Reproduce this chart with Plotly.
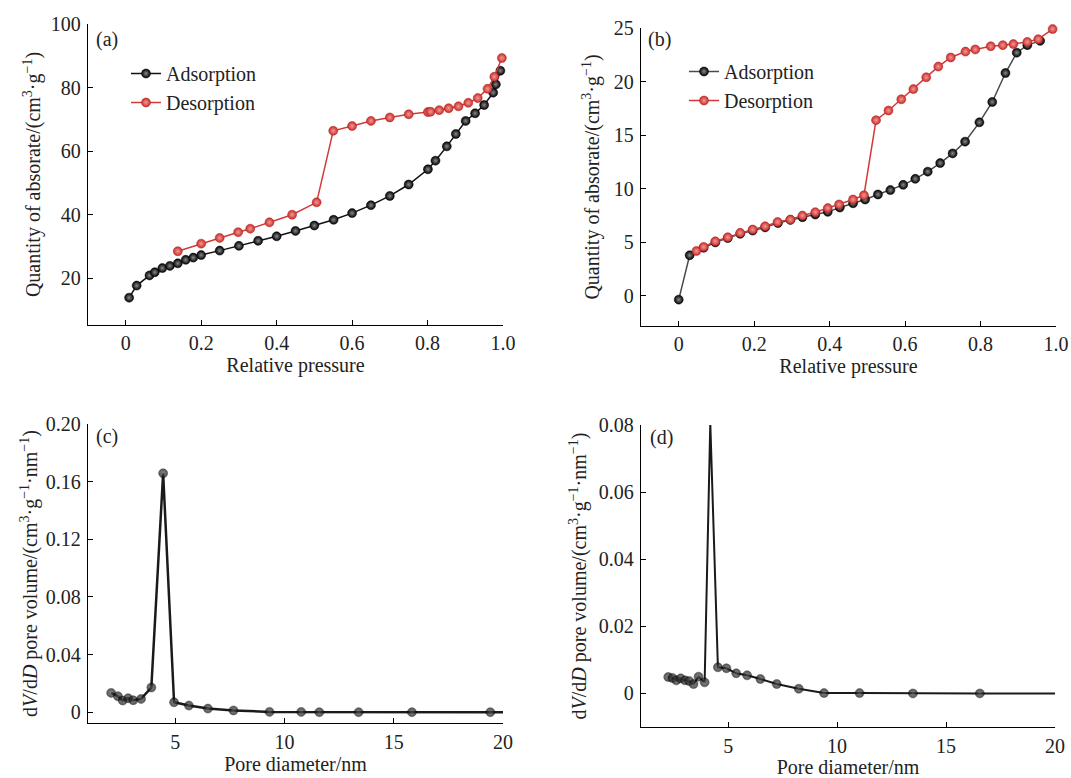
import plotly.graph_objects as go

# ---------------- data ----------------
# (a)
a_ads_x = [0.009, 0.029, 0.063, 0.077, 0.097, 0.117, 0.138, 0.159, 0.179, 0.2, 0.249, 0.3, 0.351, 0.4, 0.45,
           0.5, 0.551, 0.6, 0.65, 0.7, 0.75, 0.801, 0.821, 0.851, 0.875, 0.901, 0.926, 0.95, 0.974, 0.981, 0.993]
a_ads_y = [13.9, 17.7, 20.9, 21.9, 23.2, 23.9, 24.7, 25.8, 26.5, 27.3, 28.7, 30.2, 31.8, 33.2, 34.9,
           36.6, 38.4, 40.5, 43.0, 45.9, 49.5, 54.3, 57.0, 61.5, 65.4, 69.5, 71.9, 74.5, 78.4, 81.0, 85.3]
a_des_x = [0.138, 0.2, 0.249, 0.298, 0.33, 0.381, 0.441, 0.506, 0.55, 0.6, 0.65, 0.7, 0.75, 0.801, 0.808,
           0.831, 0.856, 0.882, 0.908, 0.933, 0.959, 0.977, 0.997]
a_des_y = [28.5, 30.9, 32.7, 34.5, 35.6, 37.6, 40.0, 43.9, 66.4, 67.9, 69.5, 70.6, 71.6, 72.3, 72.4,
           72.9, 73.5, 74.1, 75.2, 76.7, 79.6, 83.4, 89.3]

# (b)
b_ads_x = [0.0, 0.029, 0.066, 0.097, 0.13, 0.163, 0.196, 0.229, 0.263, 0.296, 0.328, 0.362, 0.395, 0.427,
           0.462, 0.494, 0.528, 0.561, 0.595, 0.627, 0.66, 0.693, 0.726, 0.759, 0.797, 0.831, 0.866,
           0.896, 0.924, 0.958]
b_ads_y = [-0.34, 3.8, 4.5, 5.0, 5.4, 5.8, 6.1, 6.4, 6.8, 7.1, 7.35, 7.6, 7.85, 8.25,
           8.65, 9.0, 9.47, 9.88, 10.37, 10.93, 11.6, 12.4, 13.3, 14.4, 16.2, 18.1, 20.8,
           22.7, 23.4, 23.8]
b_des_x = [0.047, 0.066, 0.097, 0.13, 0.163, 0.196, 0.229, 0.262, 0.296, 0.328, 0.362, 0.395, 0.425, 0.462,
           0.491, 0.523, 0.556, 0.59, 0.622, 0.656, 0.688, 0.721, 0.76, 0.786, 0.827, 0.859, 0.887,
           0.924, 0.953, 0.991]
b_des_y = [4.2, 4.58, 5.1, 5.48, 5.89, 6.2, 6.5, 6.9, 7.13, 7.5, 7.82, 8.2, 8.54, 9.0,
           9.4, 16.4, 17.3, 18.35, 19.3, 20.4, 21.4, 22.25, 22.8, 23.0, 23.3, 23.4, 23.5,
           23.7, 23.96, 24.9]

# (c)
c_x = [2.06, 2.37, 2.59, 2.84, 3.07, 3.43, 3.9, 4.44, 4.94, 5.62, 6.49, 7.66, 9.31, 10.76, 11.59,
       13.39, 15.83, 19.42, 20.0]
c_y = [0.0134, 0.0111, 0.0081, 0.0097, 0.0083, 0.0092, 0.0171, 0.1658, 0.0069, 0.0046, 0.0025, 0.0012,
       0.0002, 0.0002, 0.0, 0.0, 0.0, 0.0, 0.0]

# (d)
d_x = [2.25, 2.44, 2.62, 2.82, 3.02, 3.21, 3.41, 3.64, 3.92, 4.18, 4.53, 4.92, 5.37, 5.87, 6.48, 7.23,
       8.24, 9.4, 11.03, 13.48, 16.55, 20.0]
d_y = [0.0049, 0.0046, 0.0039, 0.0045, 0.0039, 0.0037, 0.0028, 0.005, 0.0033, 0.0805, 0.0078, 0.0075,
       0.006, 0.0054, 0.0043, 0.0028, 0.0014, 0.0001, 0.0001, 0.0, 0.0, 0.0]

pressure_ticks = [0, 0.2, 0.4, 0.6, 0.8, 1.0]
pressure_labels = ["0", "0.2", "0.4", "0.6", "0.8", "1.0"]
a_yticks = [20, 40, 60, 80, 100]
b_yticks = [0, 5, 10, 15, 20, 25]
pore_ticks = [5, 10, 15, 20]
c_yticks = [0, 0.04, 0.08, 0.12, 0.16, 0.20]
c_ylabels = ["0", "0.04", "0.08", "0.12", "0.16", "0.20"]
d_yticks = [0, 0.02, 0.04, 0.06, 0.08]
d_ylabels = ["0", "0.02", "0.04", "0.06", "0.08"]

# ---------------- style ----------------
W, H = 1071, 778
FONT = "Liberation Serif, Times New Roman, serif"
BLACK = "#111111"
RED = "#d23a35"
TXT = "#222222"


def px_x(p):
    return p / W


def px_y(p):
    return 1 - p / H


fig = go.Figure()

black_marker = dict(size=9, color="#000000", gradient=dict(type="radial", color="#8a8a8a"),
                    line=dict(width=0.5, color="#000"))
red_marker = dict(size=9, color="#c92d29", gradient=dict(type="radial", color="#f29a98"),
                  line=dict(width=0.5, color="#b02020"))
grey_marker = dict(size=9, color="#0d0d0d", gradient=dict(type="radial", color="#5a5a5a"),
                   line=dict(width=0.5, color="#000"))

fig.add_trace(go.Scatter(x=a_ads_x, y=a_ads_y, mode="lines+markers", name="Adsorption",
                         line=dict(color=BLACK, width=1.5), marker=black_marker, cliponaxis=False,
                         xaxis="x", yaxis="y", legend="legend"))
fig.add_trace(go.Scatter(x=a_des_x, y=a_des_y, mode="lines+markers", name="Desorption",
                         line=dict(color=RED, width=1.5), marker=red_marker, cliponaxis=False,
                         xaxis="x", yaxis="y", legend="legend"))

fig.add_trace(go.Scatter(x=b_ads_x, y=b_ads_y, mode="lines+markers", name="Adsorption",
                         line=dict(color="#4a4a4a", width=1.5), marker=black_marker, cliponaxis=False,
                         xaxis="x2", yaxis="y2", legend="legend2"))
fig.add_trace(go.Scatter(x=b_des_x, y=b_des_y, mode="lines+markers", name="Desorption",
                         line=dict(color=RED, width=1.5), marker=red_marker, cliponaxis=False,
                         xaxis="x2", yaxis="y2", legend="legend2"))

c_sizes = [9] * (len(c_x) - 1) + [0]
d_sizes = [9] * (len(d_x) - 1) + [0]
fig.add_trace(go.Scatter(x=c_x, y=c_y, mode="lines+markers", showlegend=False,
                         line=dict(color="#1a1a1a", width=2.5),
                         marker=dict(grey_marker, size=c_sizes), cliponaxis=False,
                         xaxis="x3", yaxis="y3"))
fig.add_trace(go.Scatter(x=d_x, y=d_y, mode="lines+markers", showlegend=False,
                         line=dict(color="#1a1a1a", width=2),
                         marker=dict(grey_marker, size=d_sizes), cliponaxis=False,
                         xaxis="x4", yaxis="y4"))

axis_common = dict(showline=True, linecolor="black", linewidth=1.3, ticks="inside", ticklen=5,
                   tickwidth=1.2, tickcolor="black", showgrid=False, zeroline=False, mirror=False,
                   automargin=False, tickfont=dict(family=FONT, size=20, color=TXT),
                   title_font=dict(family=FONT, size=20, color=TXT))

ytitle_ab = "Quantity of absorate/(cm<sup>3</sup>·g<sup>−1</sup>)"
ytitle_cd = "d<i>V</i>/d<i>D</i> pore volume/(cm<sup>3</sup>·g<sup>−1</sup>·nm<sup>−1</sup>)"

fig.update_layout(
    width=W, height=H,
    margin=dict(l=0, r=0, t=0, b=0),
    paper_bgcolor="white", plot_bgcolor="white",
    font=dict(family=FONT, size=20, color=TXT),
    xaxis=dict(axis_common, domain=[px_x(88), px_x(503)], range=[-0.1, 1.0], anchor="y",
               tickvals=pressure_ticks, ticktext=pressure_labels,
               title=dict(text="Relative pressure", standoff=4)),
    yaxis=dict(axis_common, domain=[px_y(325), px_y(24)], range=[5.3, 100], anchor="x",
               tickvals=a_yticks, ticklabelstandoff=2,
               title=dict(text=ytitle_ab, standoff=4)),
    xaxis2=dict(axis_common, domain=[px_x(641), px_x(1056)], range=[-0.1, 1.0], anchor="y2",
                tickvals=pressure_ticks, ticktext=pressure_labels,
                title=dict(text="Relative pressure", standoff=4)),
    yaxis2=dict(axis_common, domain=[px_y(326), px_y(28)], range=[-2.8, 25], anchor="x2",
                tickvals=b_yticks, ticklabelstandoff=2,
                title=dict(text=ytitle_ab, standoff=8)),
    xaxis3=dict(axis_common, domain=[px_x(88), px_x(503)], range=[1, 20], anchor="y3",
                tickvals=pore_ticks, ticklabelstandoff=1,
                title=dict(text="Pore diameter/nm", standoff=4)),
    yaxis3=dict(axis_common, domain=[px_y(723), px_y(424)], range=[-0.0075, 0.2], anchor="x3",
                tickvals=c_yticks, ticktext=c_ylabels, ticklabelstandoff=2,
                title=dict(text=ytitle_cd, standoff=2)),
    xaxis4=dict(axis_common, domain=[px_x(641), px_x(1055)], range=[1, 20], anchor="y4",
                tickvals=pore_ticks, ticklabelstandoff=1,
                title=dict(text="Pore diameter/nm", standoff=4)),
    yaxis4=dict(axis_common, domain=[px_y(727), px_y(425)], range=[-0.01, 0.08], anchor="x4",
                tickvals=d_yticks, ticktext=d_ylabels, ticklabelstandoff=2,
                title=dict(text=ytitle_cd, standoff=6)),
    legend=dict(x=px_x(126), y=px_y(54), xanchor="left", yanchor="top", bgcolor="rgba(0,0,0,0)",
                font=dict(family=FONT, size=20, color=TXT), itemwidth=30, tracegroupgap=0),
    legend2=dict(x=px_x(684), y=px_y(52), xanchor="left", yanchor="top", bgcolor="rgba(0,0,0,0)",
                 font=dict(family=FONT, size=20, color=TXT), itemwidth=30, tracegroupgap=0),
    annotations=[
        dict(text="(a)", x=px_x(94), y=px_y(40), xref="paper", yref="paper", xanchor="left",
             yanchor="middle", showarrow=False, font=dict(family=FONT, size=20, color=TXT)),
        dict(text="(b)", x=px_x(646), y=px_y(40), xref="paper", yref="paper", xanchor="left",
             yanchor="middle", showarrow=False, font=dict(family=FONT, size=20, color=TXT)),
        dict(text="(c)", x=px_x(94), y=px_y(436), xref="paper", yref="paper", xanchor="left",
             yanchor="middle", showarrow=False, font=dict(family=FONT, size=20, color=TXT)),
        dict(text="(d)", x=px_x(648), y=px_y(437), xref="paper", yref="paper", xanchor="left",
             yanchor="middle", showarrow=False, font=dict(family=FONT, size=20, color=TXT)),
    ],
)

fig.write_html("out.html", config={"displayModeBar": False},
               post_script="document.body.style.margin='0';")
